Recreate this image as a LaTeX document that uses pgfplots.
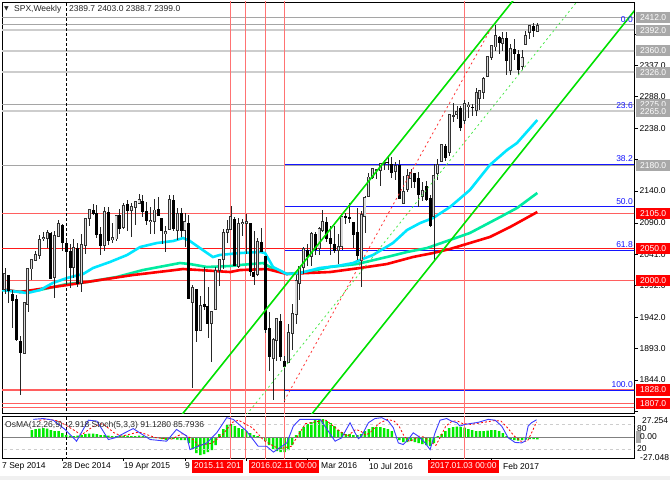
\documentclass[border=0pt]{standalone}
\usepackage{pgfplots}
\pgfplotsset{compat=1.18}
\usepackage{pgfplotstable}
\usepackage{fontspec}
\setmainfont{Liberation Sans}
\newfontfamily\symfont{DejaVu Sans}
\newcommand\mtf{\fontsize{8.5}{10}\selectfont}
\definecolor{cyanma}{RGB}{0,230,255}
\definecolor{springma}{RGB}{0,235,160}
\definecolor{chgreen}{RGB}{0,225,0}
\definecolor{lvlred}{RGB}{255,95,95}
\definecolor{vred}{RGB}{255,115,115}
\definecolor{lgray}{RGB}{205,205,205}
\definecolor{mgray}{RGB}{165,165,165}
\definecolor{boxgray}{RGB}{168,168,168}
\definecolor{fibblue}{RGB}{20,20,255}
\definecolor{stochblue}{RGB}{60,60,255}
\definecolor{osma}{RGB}{0,235,0}

\pgfplotstableread{
i O H L C
-16 2007 2008 1980 1985.5
-15 1986 2019 1978 2010.4
-14 2009 2009 1965 1982.9
-13 1979 1985 1926 1967.9
-12 1970 1977 1905 1906.1
-11 1905 1912 1820 1886.8
-10 1886 1965 1886 1964.6
-9 1962 2018 1951 2018.0
-8 2018 2034 2001 2031.9
-7 2032 2046 2030 2039.8
-6 2039 2071 2034 2063.5
-5 2065 2076 2062 2067.6
-4 2066 2079 2050 2075.4
-3 2074 2076 2002 2002.3
-2 2005 2078 1972 2070.7
-1 2069 2094 2069 2088.8
0 2087 2088 2046 2058.2
1 2058 2064 1992 2044.8
2 2046 2057 1988 2019.4
3 2020 2065 2004 2051.8
4 2050 2058 1989 1995.0
5 1996 2072 1981 2055.5
6 2055 2097 2042 2097.0
7 2097 2111 2085 2110.3
8 2110 2120 2102 2104.5
9 2105 2118 2067 2071.3
10 2072 2084 2040 2053.4
11 2055 2115 2046 2108.1
12 2107 2115 2056 2061.0
13 2064 2090 2058 2067.0
14 2065 2103 2061 2102.1
15 2102 2112 2072 2081.2
16 2083 2121 2080 2117.7
17 2119 2126 2078 2108.3
18 2110 2121 2068 2116.1
19 2115 2125 2086 2122.7
20 2121 2135 2121 2126.1
21 2125 2133 2099 2107.4
22 2108 2122 2086 2092.8
23 2092 2115 2072 2094.1
24 2092 2127 2072 2110.0
25 2112 2130 2101 2101.5
26 2098 2098 2057 2076.8
27 2073 2085 2044 2076.6
28 2080 2133 2080 2126.6
29 2126 2133 2078 2079.7
30 2078 2114 2063 2103.8
31 2105 2113 2068 2077.6
32 2078 2105 2052 2091.5
33 2090 2102 1971 1970.9
34 1966 1993 1831 1988.9
35 1986 1987 1903 1921.2
36 1921 1975 1921 1961.0
37 1963 2021 1953 1958.0
38 1960 1989 1909 1931.3
39 1932 1951 1872 1951.4
40 1954 2021 1953 2014.9
41 2015 2034 1991 2033.1
42 2033 2080 2018 2075.2
43 2075 2094 2059 2079.4
44 2080 2117 2080 2099.2
45 2096 2099 2022 2023.0
46 2022 2097 2019 2089.2
47 2089 2096 2070 2090.1
48 2090 2104 2042 2091.7
49 2090 2090 2007 2012.4
50 2013 2077 1993 2005.6
51 2010 2067 2006 2061.0
52 2060 2082 2044 2043.9
53 2038 2038 1918 1922.0
54 1926 1950 1858 1880.3
55 1878 1909 1812 1906.9
56 1906 1940 1873 1940.2
57 1936 1947 1873 1880.0
58 1873 1882 1810 1864.8
59 1871 1931 1871 1917.8
60 1917 1963 1891 1948.0
61 1947 2009 1932 2000.0
62 1996 2022 1969 2022.2
63 2020 2052 2010 2049.6
64 2047 2057 2023 2035.9
65 2037 2075 2023 2072.8
66 2073 2075 2040 2047.6
67 2050 2083 2040 2080.7
68 2079 2111 2075 2091.6
69 2092 2100 2060 2065.3
70 2067 2085 2040 2057.1
71 2057 2085 2043 2046.6
72 2047 2072 2026 2052.3
73 2053 2099 2047 2099.1
74 2100 2105 2088 2099.1
75 2100 2121 2090 2096.1
76 2091 2091 2050 2071.2
77 2075 2113 2032 2037.4
78 2031 2109 1990 2103.0
79 2100 2132 2074 2129.9
80 2132 2169 2132 2161.7
81 2162 2176 2159 2175.0
82 2173 2175 2159 2173.6
83 2173 2183 2148 2182.9
84 2183 2189 2173 2184.0
85 2186 2194 2173 2183.9
86 2182 2193 2160 2169.0
87 2171 2185 2157 2180.0
88 2181 2188 2128 2127.8
89 2120 2163 2119 2139.2
90 2143 2175 2139 2164.7
91 2160 2175 2145 2168.3
92 2168 2169 2145 2153.7
93 2161 2170 2115 2133.0
94 2132 2154 2124 2141.2
95 2148 2155 2125 2126.4
96 2129 2133 2084 2085.2
97 2101 2182 2030 2164.5
98 2168 2190 2157 2181.9
99 2186 2214 2186 2213.4
100 2210 2214 2187 2192.0
101 2201 2260 2195 2259.5
102 2258 2278 2248 2258.1
103 2260 2273 2253 2263.8
104 2270 2274 2234 2238.8
105 2251 2282 2245 2277.0
106 2273 2279 2254 2274.6
107 2272 2276 2258 2271.3
108 2267 2301 2257 2294.7
109 2286 2298 2267 2297.4
110 2295 2319 2285 2316.1
111 2320 2351 2319 2351.2
112 2350 2367 2346 2367.3
113 2366 2401 2359 2383.1
114 2381 2383 2355 2372.6
115 2371 2390 2360 2378.3
116 2380 2390 2322 2344.0
117 2329 2370 2322 2362.7
118 2363 2378 2345 2355.5
119 2355 2361 2322 2329.0
120 2335 2361 2329 2348.7
121 2370 2391 2370 2384.2
122 2388 2399 2379 2399.3
123 2398 2404 2382 2390.9
124 2389.7 2403 2388.7 2399.0
}\spx

\begin{document}
\begin{tikzpicture}[x=1pt,y=1pt]
\useasboundingbox (0,0) rectangle (670,480);
\fill[white] (0,0) rectangle (670,480);
\fill[black!6] (0,0) rectangle (670,4);

% ================= MAIN PRICE AXIS =================
\begin{axis}[
  at={(2pt,67pt)}, anchor=south west, scale only axis,
  width=632pt, height=411pt,
  xmin=-15.77, xmax=149.24, ymin=1792, ymax=2436.3,
  axis line style={black,line width=0.8pt},
  xtick=\empty,
  ytick={1794,1844,1893,1942,1992,2041,2090,2140,2189,2238,2288,2337,2386},
  yticklabels={,1844.0,1893.0,1942.0,1992.0,2041.0,2090.0,2140.0,,2238.0,2288.0,2337.0,},
  ytick pos=right, yticklabel pos=right, tick align=outside, major tick length=4pt,
  tick style={black,line width=0.6pt},
  yticklabel style={font=\mtf, text=black, inner xsep=1.5pt},
  clip=true,
]
% horizontal level lines
\addplot[mgray, line width=0.9pt] coordinates {(-20,2412) (160,2412)};
\addplot[mgray, line width=0.9pt] coordinates {(-20,2401) (160,2401)};
\addplot[lgray, line width=1.8pt] coordinates {(-20,2392) (160,2392)};
\addplot[lgray, line width=1.8pt] coordinates {(-20,2360) (160,2360)};
\addplot[lgray, line width=1.8pt] coordinates {(-20,2326) (160,2326)};
\addplot[mgray, line width=0.9pt] coordinates {(-20,2275) (160,2275)};
\addplot[lgray, line width=1.8pt] coordinates {(-20,2265) (160,2265)};
\addplot[mgray, line width=0.9pt] coordinates {(-20,2180) (160,2180)};
\addplot[lvlred, line width=1.2pt] coordinates {(-20,2105) (160,2105)};
\addplot[red!90, line width=1.2pt] coordinates {(-20,2050) (160,2050)};
\addplot[lvlred, line width=1.2pt] coordinates {(-20,2000) (160,2000)};
\addplot[lvlred, line width=1.2pt] coordinates {(-20,1828) (160,1828)};
\addplot[lvlred, line width=1.2pt] coordinates {(-20,1807) (160,1807)};
\addplot[lvlred, line width=1.2pt] coordinates {(-20,1800) (160,1800)};
% fibonacci levels
\addplot[fibblue, line width=1pt] coordinates {(57.9,2182) (160,2182)};
\addplot[fibblue, line width=1pt] coordinates {(57.9,2115) (160,2115)};
\addplot[fibblue, line width=1pt] coordinates {(57.9,2047) (160,2047)};
\addplot[fibblue, line width=1pt] coordinates {(57.9,1828) (160,1828)};
% vertical lines
\addplot[vred, line width=1pt] coordinates {(44.0,1780) (44.0,2450)};
\addplot[vred, line width=1pt] coordinates {(47.9,1780) (47.9,2450)};
\addplot[vred, line width=1pt] coordinates {(52.9,1780) (52.9,2450)};
\addplot[vred, line width=1pt] coordinates {(57.9,1780) (57.9,2450)};
\addplot[vred, line width=1pt] coordinates {(105.1,1780) (105.1,2450)};
\addplot[black, line width=0.8pt, dash pattern=on 3pt off 2pt] coordinates {(1.1,1780) (1.1,2450)};
% moving averages
\addplot[springma, line width=2.6pt] coordinates {(-15.8,1985) (-11.1,1982) (-5.8,1985) (1.2,1994.2) (6.4,1997.3) (14.2,2005.2) (21.0,2016.1) (30.7,2027.1) (33.3,2025.5) (37.7,2020.9) (43.8,2022.4) (46.4,2024) (52.4,2027.1) (54.2,2020.9) (58.6,2009.9) (63.9,2013) (69.9,2020.9) (76.9,2025.5) (84.7,2036.5) (90.0,2044.4) (95.2,2050.6) (101.2,2063.2) (106.4,2074.2) (114.3,2099.2) (118.7,2113.4) (124,2136.9)};
\addplot[red, line width=2.6pt] coordinates {(-15.8,1986) (-11.1,1981.6) (-7.7,1984.8) (1.2,1992.6) (9.8,2000.5) (18.4,2008.3) (27.3,2014.6) (31.5,2017.7) (35.9,2016.1) (43.8,2013) (46.4,2016.1) (53.4,2017.7) (58.6,2009.9) (63.9,2011.4) (69.9,2013) (77.7,2019.3) (84.7,2025.5) (91.5,2036.5) (96.8,2042.8) (101.2,2049.1) (106.4,2058.5) (111.6,2067.9) (116.9,2083.6) (124,2107.1)};
\addplot[cyanma, line width=2.6pt] coordinates {(-15.8,1984.8) (-11.1,1981.6) (-9.2,1980) (-5.8,1984.8) (-2.5,1995.8) (1.2,2003.6) (5.4,2009.9) (8.0,2019.3) (12.4,2028.7) (16.9,2039.7) (20.3,2052.2) (24.7,2058.5) (28.9,2061.6) (31.5,2066.3) (33.3,2061.6) (35.9,2050.6) (39.3,2036.5) (41.1,2039.7) (46.4,2042.8) (51.6,2044.4) (52.9,2042.8) (55.0,2020.9) (58.6,2009.9) (62.0,2011.4) (67.2,2019.3) (71.7,2022.4) (75.9,2027.1) (77.7,2031.8) (81.1,2039.7) (86.3,2058.5) (90.0,2078.9) (93.4,2089.8) (96.8,2097.7) (101.2,2114.9) (106.4,2141.6) (111.6,2180.8) (116.1,2204.3) (118.7,2215.3) (124,2251.3)};
% candles: wicks
\addplot[draw=none, mark=none, error bars/.cd, y dir=both, y explicit, error mark=none,
  error bar style={draw=black!85, line width=0.8pt}]
  table[x=i, y expr={(\thisrow{H}+\thisrow{L})/2}, y error expr={(\thisrow{H}-\thisrow{L})/2}] {\spx};
% bear bodies
\addplot[draw=none, mark=none, error bars/.cd, y dir=both, y explicit, error mark=none,
  error bar style={draw=black, line width=3pt}]
  table[x=i, y expr={\thisrow{C}<\thisrow{O} ? (\thisrow{O}+\thisrow{C})/2 : nan},
        y error expr={max((\thisrow{O}-\thisrow{C})/2,0.7)}] {\spx};
% bull bodies (outline then light core)
\addplot[draw=none, mark=none, error bars/.cd, y dir=both, y explicit, error mark=none,
  error bar style={draw=black!80, line width=3pt}]
  table[x=i, y expr={\thisrow{C}>=\thisrow{O} ? (\thisrow{O}+\thisrow{C})/2 : nan},
        y error expr={abs(\thisrow{C}-\thisrow{O})/2+1.0}] {\spx};
\addplot[draw=none, mark=none, error bars/.cd, y dir=both, y explicit, error mark=none,
  error bar style={draw=white!70!gray, line width=1.1pt}]
  table[x=i, y expr={\thisrow{C}>=\thisrow{O} ? (\thisrow{O}+\thisrow{C})/2 : nan},
        y error expr={max(abs(\thisrow{C}-\thisrow{O})/2-0.5,0)}] {\spx};
% channel lines
\addplot[chgreen, line width=1.6pt] coordinates {(28,1765.3) (125,2493.4)};
\addplot[chgreen, line width=1.6pt] coordinates {(60,1751.9) (152,2442.5)};
\addplot[chgreen!70, line width=0.8pt, dash pattern=on 2pt off 3pt] coordinates {(44,1758.6) (136,2449.2)};
\addplot[red!80, line width=0.8pt, dash pattern=on 2pt off 3pt] coordinates {(57.9,1811) (112.2,2398)};
\end{axis}

% ================= OsMA (underlay) =================
\begin{axis}[
  at={(2pt,22pt)}, anchor=south west, scale only axis,
  width=632pt, height=42pt,
  xmin=-15.77, xmax=149.24, ymin=-27.048, ymax=27.254,
  hide axis, clip=true,
]
\addplot[ybar, bar width=2.5pt, bar shift=0pt, fill=osma, draw=none] coordinates {
(-8,9.0) (-7,10.3) (-6,11.0) (-5,11.6) (-4,11.0) (-3,9.0) (-2,7.7) (-1,7.7)
(0,5.2) (1,2.6) (2,1.9) (3,1.3) (4,1.9) (5,2.6) (6,3.9) (7,4.5) (8,4.5) (9,3.9)
(10,2.6) (11,2.6) (12,1.9) (13,1.3) (14,1.3) (15,1.3) (16,1.9) (17,1.9) (18,1.3) (19,1.3)
(20,1.9) (21,1.3) (22,0.6) (23,-1.3) (24,-1.3) (25,-1.3) (26,-2.6) (27,-3.9) (28,-2.6) (29,-2.6)
(30,-3.2) (31,-3.9) (32,-3.9) (33,-7.7) (34,-15.5) (35,-20.6) (36,-23.2) (37,-21.9) (38,-19.4) (39,-16.8)
(40,-10.3) (41,3.9) (42,10.3) (43,15.5) (44,16.8) (45,14.2) (46,11.6) (47,10.3) (48,7.7) (49,5.2)
(50,2.6) (51,1.3) (52,-1.3) (53,-5.2) (54,-10.3) (55,-15.5) (56,-18.1) (57,-19.4) (58,-19.4) (59,-16.8)
(60,-10.3) (61,2.6) (62,7.7) (63,12.9) (64,16.8) (65,19.4) (66,21.9) (67,23.2) (68,23.2) (69,20.6)
(70,18.1) (71,14.2) (72,9.0) (73,6.5) (74,3.9) (75,3.9) (76,2.6) (77,2.6) (78,3.9) (79,7.7)
(80,10.3) (81,12.9) (82,12.9) (83,12.9) (84,11.6) (85,10.3) (86,7.7) (87,-1.3) (88,-3.9) (89,-6.5)
(90,-6.5) (91,-5.2) (92,-6.5) (93,-7.7) (94,-9.0) (95,-10.3) (96,-11.6) (97,-7.7) (98,1.3) (99,3.9)
(100,7.7) (101,11.6) (102,12.9) (103,13.5) (104,12.9) (105,12.3) (106,10.3) (107,9.0) (108,7.7) (109,7.7)
(110,7.7) (111,8.4) (112,9.0) (113,9.0) (114,7.7) (115,5.2) (116,1.3) (117,-2.6) (118,-3.9) (119,-4.5)
(120,-3.9) (121,-3.2) (122,-2.6) (123,-2.6) (124,-2.9)};
\addplot[black!50, line width=0.9pt] coordinates {(-20,0) (160,0)};
\end{axis}

% ================= Stochastic + frame =================
\begin{axis}[
  at={(2pt,22pt)}, anchor=south west, scale only axis,
  width=632pt, height=42pt,
  xmin=-15.77, xmax=149.24, ymin=0, ymax=100,
  axis line style={black,line width=0.8pt},
  xtick={0,16,32,48,64,80,96,112}, xticklabels={,,,,,,,},
  xtick pos=left, ytick=\empty, tick align=outside, major tick length=3pt,
  tick style={black,line width=0.6pt},
  clip=true,
]
\addplot[lgray, line width=0.8pt, dash pattern=on 3pt off 3pt] coordinates {(-20,80) (160,80)};
\addplot[lgray, line width=0.8pt, dash pattern=on 3pt off 3pt] coordinates {(-20,20) (160,20)};
\addplot[vred, line width=1pt] coordinates {(44.0,-5) (44.0,105)};
\addplot[vred, line width=1pt] coordinates {(47.9,-5) (47.9,105)};
\addplot[vred, line width=1pt] coordinates {(52.9,-5) (52.9,105)};
\addplot[vred, line width=1pt] coordinates {(57.9,-5) (57.9,105)};
\addplot[vred, line width=1pt] coordinates {(105.1,-5) (105.1,105)};
\addplot[black, line width=0.8pt, dash pattern=on 3pt off 2pt] coordinates {(1.1,-5) (1.1,105)};
% signal
\addplot[red, line width=0.8pt, dash pattern=on 2pt off 2pt] coordinates {
(-6,90) (-3.5,92) (-1,88) (2,72) (5,55) (8,75) (10.5,82) (13.5,60) (15.5,52) (20,62) (24.5,48) (28.5,45) (31.3,58) (34,45) (35.5,30) (39,35) (41.8,55) (44.4,85) (46,90) (49.6,72) (52.6,42) (54.8,30) (56.6,22) (59.8,28) (61.8,58) (63.5,82) (68.8,90) (72.7,62) (74.4,52) (76.6,68) (77.9,64) (79.2,54) (80.5,62) (82.6,82) (84.9,92) (86.6,88) (87.9,76) (89.2,52) (90.5,40) (91.8,44) (93.1,52) (94.4,50) (96.2,38) (97.5,30) (98.8,52) (100.1,76) (101.8,88) (103.2,88) (104.5,82) (106.6,80) (110.1,85) (112.7,89) (114.5,88) (116.2,72) (118,52) (119.7,40) (121.4,40) (122.3,56) (123.8,85.8)};
% main
\addplot[stochblue, line width=0.9pt] coordinates {
(-7.6,92) (-5.0,94) (-2.4,90) (0.7,68) (3.7,40) (6.8,90) (9.0,88) (12.0,44) (13.7,48) (18.5,70) (22.9,44) (27.2,40) (29.8,68) (32.5,52) (33.3,20) (37.7,36) (40.3,60) (42.9,96) (44.6,92) (48.1,64) (51.1,28) (53.3,28) (55.1,14) (58.6,36) (60.3,76) (62.0,92) (67.3,92) (71.2,40) (72.9,48) (75.1,84) (76.4,60) (77.3,46) (78.1,52) (79.9,84) (81.6,94) (83.4,96) (85.1,88) (86.4,72) (87.7,36) (89.0,32) (90.3,44) (91.6,60) (92.9,52) (94.7,36) (96.0,20) (97.3,60) (98.6,90) (100.3,94) (101.6,88) (103.0,84) (103.8,76) (105.1,80) (108.6,85) (111.2,92) (113.0,90) (114.7,76) (116.4,48) (118.2,37) (119.9,36) (120.8,40) (121.6,76) (122.5,84) (123.8,91.1)};
\end{axis}

% ================= TEXT =================
\node[anchor=west, inner sep=0pt, font=\symfont\fontsize{6}{7}\selectfont, text=black!85] at (4,471) {▼};
\node[anchor=west, inner sep=0pt, font=\mtf, text=black!85] at (14,471) {SPX,Weekly};
\node[anchor=west, inner sep=0pt, font=\mtf, text=black!85] at (69,471) {2389.7 2403.0 2388.7 2399.0};
\node[anchor=west, inner sep=0pt, font=\mtf, text=black!85] at (5,55) {OsMA(12,26,9) -2.918 Stoch(5,3,3) 91.1280 85.7936};

% fib labels
\begin{scope}[every node/.style={anchor=east, inner sep=0pt, font=\mtf, text=fibblue}]
\node at (633,460) {0.0};
\node at (633,374) {23.6};
\node at (633,321) {38.2};
\node at (633,278) {50.0};
\node at (633,235) {61.8};
\node at (633,95) {100.0};
\end{scope}

% price labels
\begin{scope}[every node/.style={anchor=west, inner sep=0pt, minimum height=11.5pt, minimum width=34pt, font=\mtf, text=white}]
\node[fill=boxgray] at (636,462.5) {2412.0};
\node[fill=boxgray] at (636,449.7) {2392.0};
\node[fill=boxgray] at (636,429.3) {2360.0};
\node[fill=boxgray] at (636,407.6) {2326.0};
\node[fill=boxgray] at (636,375.1) {2275.0};
\node[fill=boxgray] at (636,368.7) {2265.0};
\node[fill=boxgray] at (636,314.5) {2180.0};
\node[fill=red] at (636,266.7) {2105.0};
\node[fill=red] at (636,231.6) {2050.0};
\node[fill=red] at (636,199.7) {2000.0};
\node[fill=red] at (636,90) {1828.0};
\node[fill=red] at (636,76.6) {1807.0};
\end{scope}

% indicator right labels
\node[anchor=west, inner sep=0pt, font=\mtf] at (637,51) {80};
\node[anchor=west, inner sep=0pt, font=\mtf] at (642,59) {27.254};
\fill[boxgray] (636,37) rectangle (641,49);
\node[anchor=west, inner sep=0pt, font=\mtf] at (640,43) {0.00};
\node[anchor=west, inner sep=0pt, font=\mtf] at (637,31) {20};
\node[anchor=west, inner sep=0pt, font=\mtf] at (640,22) {-27.048};

% date labels
\begin{scope}[every node/.style={anchor=west, inner sep=0pt, font=\mtf, text=black}]
\node at (2,14) {7 Sep 2014};
\node at (62.4,14) {28 Dec 2014};
\node at (123.7,14) {19 Apr 2015};
\node at (185,14) {9};
\node at (321,14) {Mar 2016};
\node at (368.8,14) {10 Jul 2016};
\node at (503,14) {Feb 2017};
\end{scope}
\begin{scope}[every node/.style={inner xsep=2pt, inner ysep=0pt, minimum height=13pt, font=\mtf, text=white, fill=red}]
\node[anchor=west] at (192,14) {2015.11 201};
\node[anchor=west] at (249,14) {2016.02.11 00:00};
\node at (463.5,14) {2017.01.03 00:00};
\end{scope}
\end{tikzpicture}
\end{document}
